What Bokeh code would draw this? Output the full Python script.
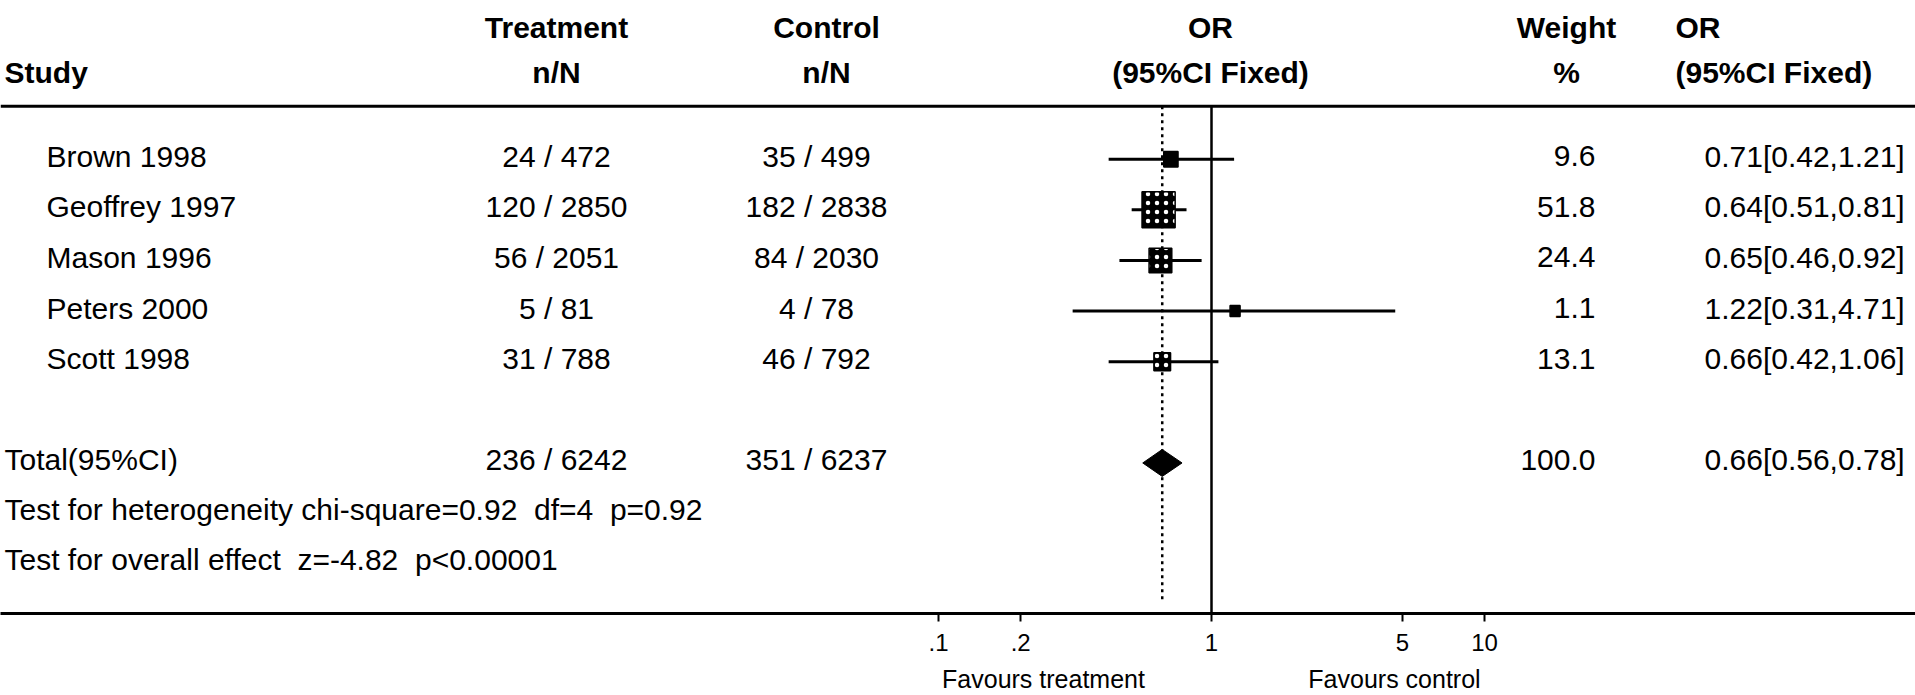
from bokeh.plotting import figure
from bokeh.models import (Range1d, ColumnDataSource, FixedTicker, Span, LinearAxis,
                          CustomJSTickFormatter, LinearScale)
from bokeh.core.properties import value
from bokeh.embed import file_html
from bokeh.resources import INLINE
import math

# ---------------- data ----------------
studies = ["Brown 1998", "Geoffrey 1997", "Mason 1996", "Peters 2000", "Scott 1998"]
treat_n = [24, 120, 56, 5, 31]
treat_N = [472, 2850, 2051, 81, 788]
ctrl_n = [35, 182, 84, 4, 46]
ctrl_N = [499, 2838, 2030, 78, 792]
or_est = [0.71, 0.64, 0.65, 1.22, 0.66]
ci_lo = [0.42, 0.51, 0.46, 0.31, 0.42]
ci_hi = [1.21, 0.81, 0.92, 4.71, 1.06]
weights = [9.6, 51.8, 24.4, 1.1, 13.1]

total_label = "Total(95%CI)"
total_treat = (236, 6242)
total_ctrl = (351, 6237)
total_or, total_lo, total_hi = 0.66, 0.56, 0.78
total_weight = 100.0
het_chi2, het_df, het_p = 0.92, 4, 0.92
z_val, z_p = -4.82, "<0.00001"

axis_ticks = [0.1, 0.2, 1, 5, 10]
axis_tick_labels = [".1", ".2", "1", "5", "10"]
favours_labels = ["Favours treatment", "Favours control"]

# ---------------- layout ----------------
W, H = 1915, 695
AXIS_Y = 614
AX_BOTTOM = H - AXIS_Y
FRAME_H = AXIS_Y
PX_PER_DEC = 273.0
X_ONE = 1211.0
L0 = -X_ONE / PX_PER_DEC
L1 = (W - X_ONE) / PX_PER_DEC

TOP_LINE_Y = 106
HDR1_Y, HDR2_Y = 27, 72
ROW0, ROW_H = 159, 50.7
TXT_DY = -3

NAME_X = 46
LEFT_X = 4
TREAT_X = 556
CTRL_X = 816
CTRL_HDR_X = 826
ORH_X = 1210
WEIGHT_X = 1595
WEIGHT_HDR_X = 1566
ORT_X = 1704
ORT_HDR_X = 1675
FAV_X = [1043, 1394]

FONT = "Liberation Sans"
BODY = "30px"
HEAD = "30px"
SP2 = " \u00a0"  # visible double space

p = figure(width=W, height=H, x_axis_type="log",
           x_range=Range1d(10 ** L0, 10 ** L1),
           y_range=Range1d(FRAME_H, 0),
           output_backend="svg", toolbar_location=None,
           min_border_left=0, min_border_right=0, min_border_top=0,
           min_border_bottom=AX_BOTTOM, y_axis_location=None, title=None)
p.extra_x_ranges = {"px": Range1d(0, W)}
p.extra_x_scales = {"px": LinearScale()}
p.outline_line_color = None
p.grid.visible = False
p.background_fill_color = "white"
p.border_fill_color = "white"

ax = p.xaxis[0]
ax.ticker = FixedTicker(ticks=axis_ticks)
ax.formatter = CustomJSTickFormatter(
    args=dict(t=axis_ticks, l=axis_tick_labels),
    code="for (let i = 0; i < t.length; i++) { if (Math.abs(t[i] - tick) < 1e-9 * Math.max(1, t[i])) return l[i]; } return '';")
ax.axis_line_width = 3
ax.axis_line_color = "black"
ax.major_tick_line_width = 2
ax.major_tick_line_color = "black"
ax.major_tick_out = 8
ax.major_tick_in = 0
ax.minor_tick_line_color = None
ax.major_label_text_font = FONT
ax.major_label_text_font_size = "24px"
ax.major_label_text_color = "black"
ax.major_label_standoff = 12

# second axis row carrying the "Favours ..." captions
fav_ax = LinearAxis(x_range_name="px",
                    ticker=FixedTicker(ticks=FAV_X),
                    formatter=CustomJSTickFormatter(
                        args=dict(t=FAV_X, l=favours_labels),
                        code="const i = t.indexOf(tick); return i >= 0 ? l[i] : '';"),
                    axis_line_color=None, major_tick_line_color=None, minor_tick_line_color=None,
                    major_tick_out=0, major_tick_in=0,
                    major_label_text_font=FONT, major_label_text_font_size="25px",
                    major_label_text_color="black", major_label_standoff=11)
p.add_layout(fav_ax, "below")

# header rule
p.add_layout(Span(location=TOP_LINE_Y, dimension="width", line_color="black", line_width=3))

n = len(studies)
ys = [ROW0 + i * ROW_H for i in range(n)]
total_y = ROW0 + (n + 1) * ROW_H
het_y = total_y + ROW_H
z_y = total_y + 2 * ROW_H

# null line and pooled line
p.segment(x0=[1], x1=[1], y0=[TOP_LINE_Y], y1=[FRAME_H], line_color="black", line_width=2.5)
p.segment(x0=[total_or], x1=[total_or], y0=[TOP_LINE_Y], y1=[FRAME_H - 13],
          line_color="black", line_width=2.5, line_dash="3 4")

# CIs and boxes
src = ColumnDataSource(dict(
    y=ys, est=or_est, lo=ci_lo, hi=ci_hi,
    side=[max(10.0, 4.6 * math.sqrt(w)) for w in weights],
    sideh=[max(11.0, 5.0 * math.sqrt(w)) for w in weights],
    hatch=["dot" if w > 10 else " " for w in weights],
))
p.segment(x0="lo", x1="hi", y0="y", y1="y", source=src, line_color="black", line_width=3)
p.rect(x="est", y="y", width="side", height="sideh", width_units="screen", height_units="screen",
       source=src, fill_color="black", line_color="black", line_width=1.5,
       hatch_pattern="hatch", hatch_color="white", hatch_scale=9, hatch_weight=1.2)

# diamond
DH = 27
p.patch(x=[total_lo, total_or, total_hi, total_or],
        y=[total_y, total_y - DH / 2, total_y, total_y + DH / 2],
        fill_color="black", line_color="black", line_width=1)

def txt(xs, ys_, texts, align, size=BODY, bold=False, dy=TXT_DY):
    s = ColumnDataSource(dict(x=xs, y=[v + dy for v in ys_], t=texts))
    p.text(x="x", y="y", text="t", source=s, x_range_name="px",
           text_font=value(FONT), text_font_size=size, text_align=align,
           text_baseline="middle", text_color="black",
           text_font_style="bold" if bold else "normal")

# headers
txt([LEFT_X], [HDR2_Y], ["Study"], "left", HEAD, True, 0)
txt([TREAT_X, TREAT_X], [HDR1_Y, HDR2_Y], ["Treatment", "n/N"], "center", HEAD, True, 0)
txt([CTRL_HDR_X, CTRL_HDR_X], [HDR1_Y, HDR2_Y], ["Control", "n/N"], "center", HEAD, True, 0)
txt([ORH_X, ORH_X], [HDR1_Y, HDR2_Y], ["OR", "(95%CI Fixed)"], "center", HEAD, True, 0)
txt([WEIGHT_HDR_X, WEIGHT_HDR_X], [HDR1_Y, HDR2_Y], ["Weight", "%"], "center", HEAD, True, 0)
txt([ORT_HDR_X, ORT_HDR_X], [HDR1_Y, HDR2_Y], ["OR", "(95%CI Fixed)"], "left", HEAD, True, 0)

# rows
txt([NAME_X] * n, ys, studies, "left")
txt([TREAT_X] * n, ys, [f"{a} / {b}" for a, b in zip(treat_n, treat_N)], "center")
txt([CTRL_X] * n, ys, [f"{a} / {b}" for a, b in zip(ctrl_n, ctrl_N)], "center")
txt([WEIGHT_X] * n, ys, [f"{w:.1f}" for w in weights], "right")
txt([ORT_X] * n, ys, [f"{o:.2f}[{l:.2f},{h:.2f}]" for o, l, h in zip(or_est, ci_lo, ci_hi)], "left")

# total
txt([LEFT_X], [total_y], [total_label], "left")
txt([TREAT_X], [total_y], [f"{total_treat[0]} / {total_treat[1]}"], "center")
txt([CTRL_X], [total_y], [f"{total_ctrl[0]} / {total_ctrl[1]}"], "center")
txt([WEIGHT_X], [total_y], [f"{total_weight:.1f}"], "right")
txt([ORT_X], [total_y], [f"{total_or:.2f}[{total_lo:.2f},{total_hi:.2f}]"], "left")

txt([LEFT_X], [het_y - 1],
    [f"Test for heterogeneity chi-square={het_chi2:.2f}{SP2}df={het_df}{SP2}p={het_p:.2f}"], "left")
txt([LEFT_X], [z_y - 2], [f"Test for overall effect{SP2}z={z_val:.2f}{SP2}p{z_p}"], "left")

open("out.html", "w").write(file_html(p, INLINE))
